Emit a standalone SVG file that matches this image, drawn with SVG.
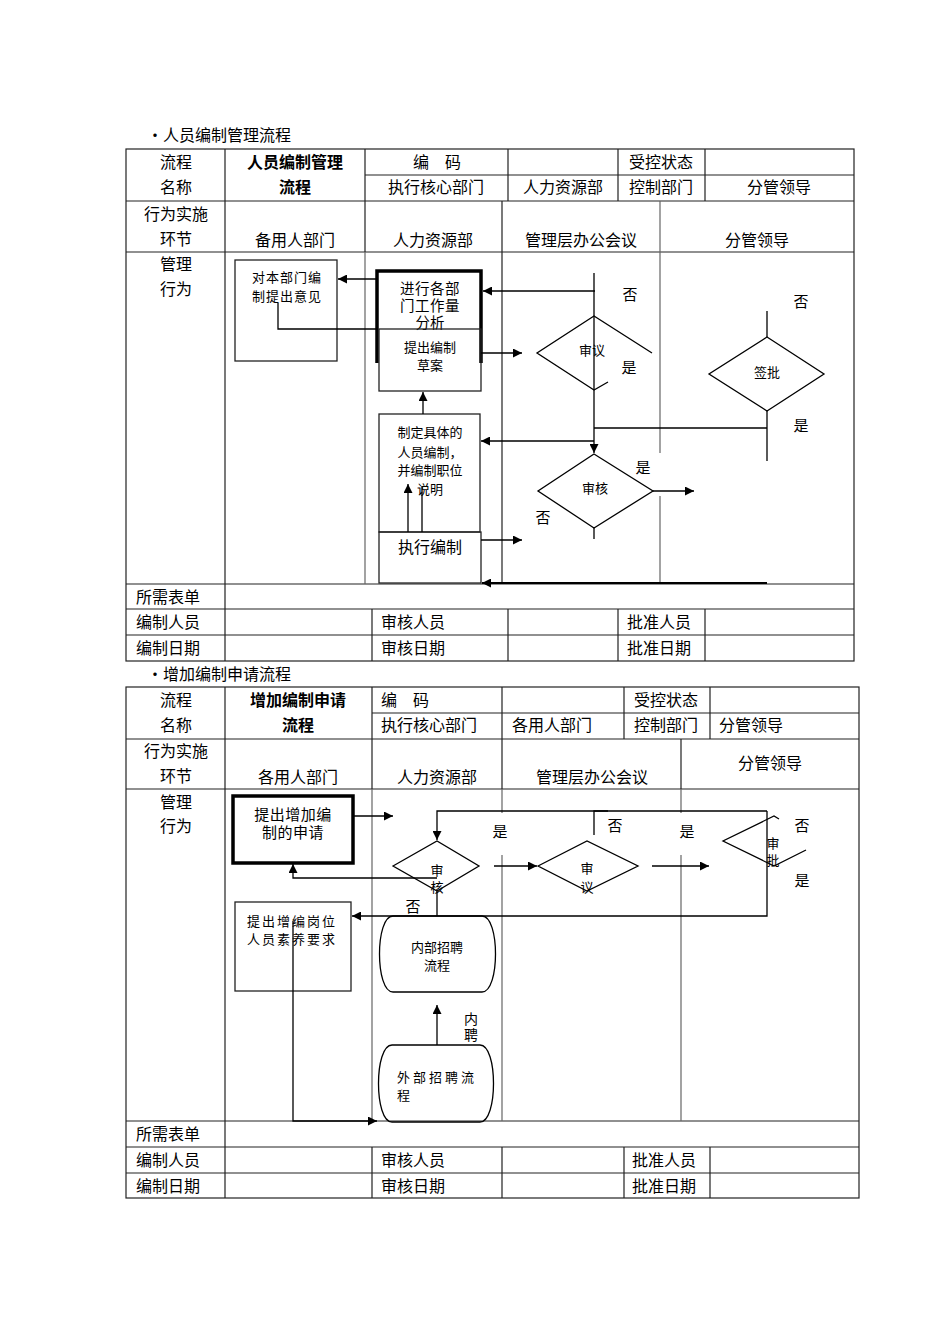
<svg xmlns="http://www.w3.org/2000/svg" width="950" height="1344" viewBox="0 0 950 1344">
<style>
text{font-family:"Noto Sans CJK SC","Noto Sans",sans-serif;fill:#000}
.h{font-size:16px}
.c{text-anchor:middle}
.b{font-weight:bold}
.s{font-size:13px}
.m{font-size:15px}
.tl{stroke:#222;stroke-width:1.2;fill:none}
.ln{stroke:#666;stroke-width:1.2;fill:none}
.box{stroke:#222;stroke-width:1.3;fill:none}
.thk{stroke:#000;stroke-width:3.5;fill:none}
.cn{stroke:#000;stroke-width:1.3;fill:none}
</style>
<defs>
<marker id="ah" viewBox="0 0 10 10" refX="10" refY="5" markerWidth="11" markerHeight="9" orient="auto" markerUnits="userSpaceOnUse"><path d="M0,0 L10,5 L0,10 z" fill="#000"/></marker>
</defs>
<rect width="950" height="1344" fill="#fff"/>

<!-- ===== Table 1 ===== -->
<g id="table1">
<text x="147" y="141" class="h">•人员编制管理流程</text>
<rect x="126" y="149" width="728" height="512" class="tl"/>
<path class="tl" d="M365,175H854M126,201H854M126,252H854M126,584H854M126,609H854M126,635H854"/>
<path class="tl" d="M225,149V661M365,149V252M508,149V201M618,149V201M705,149V201M502,201V584M372,609V661M508,609V661M618,609V661M705,609V661"/>
<path class="ln" d="M365,252V584M660,201V453M660,496V584"/>
<text x="176" y="168" class="h c">流程</text>
<text x="176" y="193" class="h c">名称</text>
<text x="295" y="168" class="h c b">人员编制管理</text>
<text x="295" y="193" class="h c b">流程</text>
<text x="437" y="168" class="h c">编　码</text>
<text x="661" y="168" class="h c">受控状态</text>
<text x="436" y="193" class="h c">执行核心部门</text>
<text x="563" y="193" class="h c">人力资源部</text>
<text x="661" y="193" class="h c">控制部门</text>
<text x="779" y="193" class="h c">分管领导</text>
<text x="176" y="220" class="h c">行为实施</text>
<text x="176" y="245" class="h c">环节</text>
<text x="295" y="246" class="h c">备用人部门</text>
<text x="433" y="246" class="h c">人力资源部</text>
<text x="581" y="246" class="h c">管理层办公会议</text>
<text x="757" y="246" class="h c">分管领导</text>
<text x="176" y="270" class="h c">管理</text>
<text x="176" y="295" class="h c">行为</text>
<text x="136" y="603" class="h">所需表单</text>
<text x="136" y="628" class="h">编制人员</text>
<text x="381" y="628" class="h">审核人员</text>
<text x="627" y="628" class="h">批准人员</text>
<text x="136" y="654" class="h">编制日期</text>
<text x="381" y="654" class="h">审核日期</text>
<text x="627" y="654" class="h">批准日期</text>
</g>

<g id="n1">
<rect x="235" y="260" width="102" height="101" class="box"/>
<text x="287" y="282" class="s c" letter-spacing="1">对本部门编</text>
<text x="287" y="301" class="s c" letter-spacing="1">制提出意见</text>
</g>
<g id="n2">
<path class="thk" d="M377,363V271H481V363"/>
<text x="430" y="294" class="c" font-size="14.5" letter-spacing="0.5">进行各部</text>
<text x="430" y="311" class="c" font-size="14.5" letter-spacing="0.5">门工作量</text>
<text x="430" y="328" class="c" font-size="14.5">分析</text>
</g>
<g id="n3">
<rect x="379" y="329" width="102" height="62" class="box"/>
<text x="430" y="352" class="s c">提出编制</text>
<text x="430" y="370" class="s c">草案</text>
</g>
<g id="n4">
<rect x="379" y="414" width="101" height="118" class="box"/>
<text x="430" y="437" class="s c">制定具体的</text>
<text x="430" y="457" class="s c">人员编制，</text>
<text x="430" y="475" class="s c">并编制职位</text>
<text x="430" y="494" class="s c">说明</text>
</g>
<g id="n5">
<rect x="379" y="532" width="102" height="51" class="box"/>
<text x="430" y="553" class="h c">执行编制</text>
</g>
<g id="d1">
<polyline class="cn" points="652,353 594,316 537,353 594,390 608,382"/>
<text x="592" y="355" class="s c">审议</text>
</g>
<g id="d2">
<polygon class="cn" points="767,337 824,374 767,411 709,374"/>
<text x="767" y="377" class="s c">签批</text>
</g>
<g id="d3">
<polygon class="cn" points="594,454 653,491 594,528 538,491"/>
<text x="595" y="493" class="s c">审核</text>
</g>

<g id="connectors1">
<line class="cn" x1="376" y1="279" x2="338" y2="279" marker-end="url(#ah)"/>
<polyline class="cn" points="278,303 278,329 377,329"/>
<line class="cn" x1="595" y1="291" x2="483" y2="291" marker-end="url(#ah)"/>
<line class="cn" x1="594" y1="273" x2="594" y2="453" marker-end="url(#ah)"/>
<line class="cn" x1="481" y1="353" x2="522" y2="353" marker-end="url(#ah)"/>
<line class="cn" x1="594" y1="428" x2="767" y2="428"/>
<line class="cn" x1="767" y1="311" x2="767" y2="337"/>
<line class="cn" x1="767" y1="411" x2="767" y2="461"/>
<line class="cn" x1="594" y1="441" x2="481" y2="441" marker-end="url(#ah)"/>
<line class="cn" x1="653" y1="491" x2="694" y2="491" marker-end="url(#ah)"/>
<line class="cn" x1="594" y1="528" x2="594" y2="539"/>
<line class="cn" x1="481" y1="540" x2="522" y2="540" marker-end="url(#ah)"/>
<line x1="767" y1="583" x2="482" y2="583" stroke="#000" stroke-width="2.2" marker-end="url(#ah)"/>
<line class="cn" x1="423" y1="414" x2="423" y2="392" marker-end="url(#ah)"/>
<line class="cn" x1="408" y1="532" x2="408" y2="484" marker-end="url(#ah)"/>
<line class="cn" x1="422" y1="532" x2="422" y2="486"/>
<text x="630" y="300" class="m c">否</text>
<text x="629" y="373" class="m c">是</text>
<text x="801" y="307" class="m c">否</text>
<text x="801" y="431" class="m c">是</text>
<text x="643" y="473" class="m c">是</text>
<text x="543" y="523" class="m c">否</text>
</g>

<!-- ===== Table 2 ===== -->
<g id="table2">
<text x="147" y="680" class="h">•增加编制申请流程</text>
<rect x="126" y="687" width="733" height="511" class="tl"/>
<path class="tl" d="M372,713H859M126,739H859M126,789H859M126,1121H859M126,1147H859M126,1173H859"/>
<path class="tl" d="M225,687V1198M372,687V789M502,687V739M624,687V739M710,687V739M502,739V789M681,739V789M372,1147V1198M502,1147V1198M624,1147V1198M710,1147V1198"/>
<path class="ln" d="M372,789V1121M502,789V813M502,855V1121M681,789V813M681,855V1121"/>
<text x="176" y="706" class="h c">流程</text>
<text x="176" y="731" class="h c">名称</text>
<text x="298" y="706" class="h c b">增加编制申请</text>
<text x="298" y="731" class="h c b">流程</text>
<text x="381" y="706" class="h">编　码</text>
<text x="666" y="706" class="h c">受控状态</text>
<text x="381" y="731" class="h">执行核心部门</text>
<text x="512" y="731" class="h">各用人部门</text>
<text x="666" y="731" class="h c">控制部门</text>
<text x="719" y="731" class="h">分管领导</text>
<text x="176" y="757" class="h c">行为实施</text>
<text x="176" y="782" class="h c">环节</text>
<text x="298" y="783" class="h c">各用人部门</text>
<text x="437" y="783" class="h c">人力资源部</text>
<text x="592" y="783" class="h c">管理层办公会议</text>
<text x="770" y="769" class="h c">分管领导</text>
<text x="176" y="808" class="h c">管理</text>
<text x="176" y="832" class="h c">行为</text>
<text x="136" y="1140" class="h">所需表单</text>
<text x="136" y="1166" class="h">编制人员</text>
<text x="381" y="1166" class="h">审核人员</text>
<text x="632" y="1166" class="h">批准人员</text>
<text x="136" y="1192" class="h">编制日期</text>
<text x="381" y="1192" class="h">审核日期</text>
<text x="632" y="1192" class="h">批准日期</text>
</g>

<g id="n6">
<rect x="233" y="796" width="120" height="67" class="thk"/>
<text x="293" y="820" class="c" font-size="15" letter-spacing="0.5">提出增加编</text>
<text x="293" y="838" class="c" font-size="15" letter-spacing="0.5">制的申请</text>
</g>
<g id="n7">
<rect x="235" y="902" width="116" height="89" class="box"/>
<text x="247" y="926" class="s" letter-spacing="2">提出增编岗位</text>
<text x="247" y="944" class="s" letter-spacing="2">人员素养要求</text>
</g>
<g id="n8">
<polygon class="cn" points="393,866 437,841 479,866 437,891"/>
<text x="437" y="875" class="s c">审</text>
<text x="437" y="892" class="s c">核</text>
</g>
<g id="n9">
<polygon class="cn" points="538,866 587,841 638,866 587,891"/>
<text x="587" y="873" class="s c">审</text>
<text x="587" y="892" class="s c">议</text>
</g>
<g id="n10">
<polyline class="cn" points="779,819 774,816 723,841 774,866 806,850"/>
<text x="773" y="848" class="s c">审</text>
<text x="773" y="865" class="s c">批</text>
</g>
<g id="n11">
<path class="cn" d="M393,916H482C500,916 500,992 482,992H393C375,992 375,916 393,916Z"/>
<text x="437" y="952" class="s c">内部招聘</text>
<text x="437" y="970" class="s c">流程</text>
</g>
<g id="n12">
<path class="cn" d="M392,1045H480C498,1045 498,1122 480,1122H392C374,1122 374,1045 392,1045Z"/>
<text x="397" y="1082" class="s" letter-spacing="3">外部招聘流</text>
<text x="397" y="1100" class="s">程</text>
</g>

<g id="connectors2">
<line class="cn" x1="353" y1="816" x2="393" y2="816" marker-end="url(#ah)"/>
<polyline class="cn" points="767,811 437,811 437,840" marker-end="url(#ah)"/>
<polyline class="cn" points="608,811 594,811 594,835"/>
<line class="cn" x1="494" y1="866" x2="537" y2="866" marker-end="url(#ah)"/>
<line class="cn" x1="652" y1="866" x2="709" y2="866" marker-end="url(#ah)"/>
<polyline class="cn" points="767,811 767,916 352,916" marker-end="url(#ah)"/>
<line class="cn" x1="437" y1="891" x2="437" y2="916"/>
<polyline class="cn" points="437,878 293,878 293,864" marker-end="url(#ah)"/>
<polyline class="cn" points="293,921 293,1121 377,1121" marker-end="url(#ah)"/>
<line class="cn" x1="437" y1="1045" x2="437" y2="1005" marker-end="url(#ah)"/>
<text x="500" y="837" class="m c">是</text>
<text x="413" y="912" class="m c">否</text>
<text x="615" y="831" class="m c">否</text>
<text x="687" y="837" class="m c">是</text>
<text x="802" y="831" class="m c">否</text>
<text x="802" y="886" class="m c">是</text>
<text x="471" y="1024" class="c" font-size="14">内</text>
<text x="471" y="1040" class="c" font-size="14">聘</text>
</g>
</svg>
